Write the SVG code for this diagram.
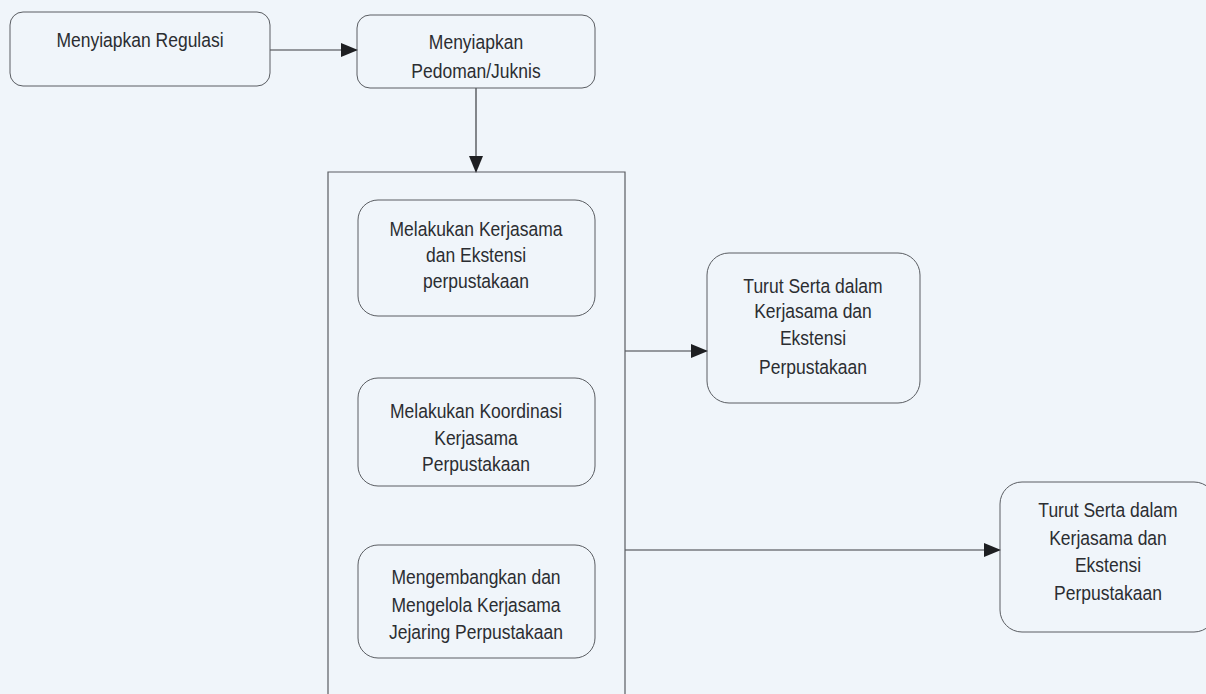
<svg xmlns="http://www.w3.org/2000/svg" width="1206" height="694" viewBox="0 0 1206 694">
  <style>
    .box { fill: none; stroke: #5a5d62; stroke-width: 1; }
    .frame { fill: none; stroke: #5a5d62; stroke-width: 1.2; }
    .link { fill: none; stroke: #3a3c40; stroke-width: 1.2; }
    .label { font-family: "Liberation Sans", Arial, sans-serif; font-size: 17.5px; fill: #2b2d31; text-anchor: middle; }
  </style>
  <defs>
    <marker id="head" markerWidth="17" markerHeight="14" refX="16" refY="7" orient="auto" markerUnits="userSpaceOnUse">
      <path d="M0,0 L17,7 L0,14 Z" fill="#1e1f22"/>
    </marker>
  </defs>

  <rect width="1206" height="694" fill="#f0f5fa"/>

  <!-- connectors -->
  <g id="connectors">
    <line class="link" x1="270" y1="50" x2="357" y2="50" stroke-width="2" marker-end="url(#head)"/>
    <line class="link" x1="476" y1="88" x2="476" y2="172" marker-end="url(#head)"/>
    <line class="link" x1="625" y1="351" x2="707" y2="351" marker-end="url(#head)"/>
    <line class="link" x1="625" y1="550" x2="1000" y2="550" marker-end="url(#head)"/>
  </g>

  <!-- labels are drawn slightly condensed-tall: translate to baseline, then stretch vertically -->
  <g id="regulasi">
    <rect class="box" x="10" y="12" width="260" height="74" rx="13"/>
    <text class="label" transform="translate(140 47) scale(1 1.18)">Menyiapkan Regulasi</text>
  </g>

  <g id="pedoman">
    <rect class="box" x="357" y="15" width="238" height="73" rx="13"/>
    <text class="label" transform="translate(476 49) scale(1 1.18)">Menyiapkan</text>
    <text class="label" transform="translate(476 78) scale(1 1.18)">Pedoman/Juknis</text>
  </g>

  <!-- open-bottom container for the three activities -->
  <g id="kegiatan">
    <path class="frame" d="M328,694 L328,172 L625,172 L625,694"/>
  </g>

  <g id="kerjasama-ekstensi">
    <rect class="box" x="358" y="200" width="237" height="116" rx="20"/>
    <text class="label" transform="translate(476 236) scale(1 1.18)">Melakukan Kerjasama</text>
    <text class="label" transform="translate(476 262) scale(1 1.18)">dan Ekstensi</text>
    <text class="label" transform="translate(476 288) scale(1 1.18)">perpustakaan</text>
  </g>

  <g id="koordinasi">
    <rect class="box" x="358" y="378" width="237" height="108" rx="20"/>
    <text class="label" transform="translate(476 418) scale(1 1.18)">Melakukan Koordinasi</text>
    <text class="label" transform="translate(476 445) scale(1 1.18)">Kerjasama</text>
    <text class="label" transform="translate(476 471) scale(1 1.18)">Perpustakaan</text>
  </g>

  <g id="jejaring">
    <rect class="box" x="358" y="545" width="237" height="113" rx="20"/>
    <text class="label" transform="translate(476 584) scale(1 1.18)">Mengembangkan dan</text>
    <text class="label" transform="translate(476 612) scale(1 1.18)">Mengelola Kerjasama</text>
    <text class="label" transform="translate(476 639) scale(1 1.18)">Jejaring Perpustakaan</text>
  </g>

  <g id="turut-serta-1">
    <rect class="box" x="707" y="253" width="213" height="150" rx="22"/>
    <text class="label" transform="translate(813 293) scale(1 1.18)">Turut Serta dalam</text>
    <text class="label" transform="translate(813 318) scale(1 1.18)">Kerjasama dan</text>
    <text class="label" transform="translate(813 345) scale(1 1.18)">Ekstensi</text>
    <text class="label" transform="translate(813 374) scale(1 1.18)">Perpustakaan</text>
  </g>

  <g id="turut-serta-2">
    <rect class="box" x="1000" y="482" width="216" height="150" rx="22"/>
    <text class="label" transform="translate(1108 517) scale(1 1.18)">Turut Serta dalam</text>
    <text class="label" transform="translate(1108 545) scale(1 1.18)">Kerjasama dan</text>
    <text class="label" transform="translate(1108 572) scale(1 1.18)">Ekstensi</text>
    <text class="label" transform="translate(1108 600) scale(1 1.18)">Perpustakaan</text>
  </g>
</svg>
